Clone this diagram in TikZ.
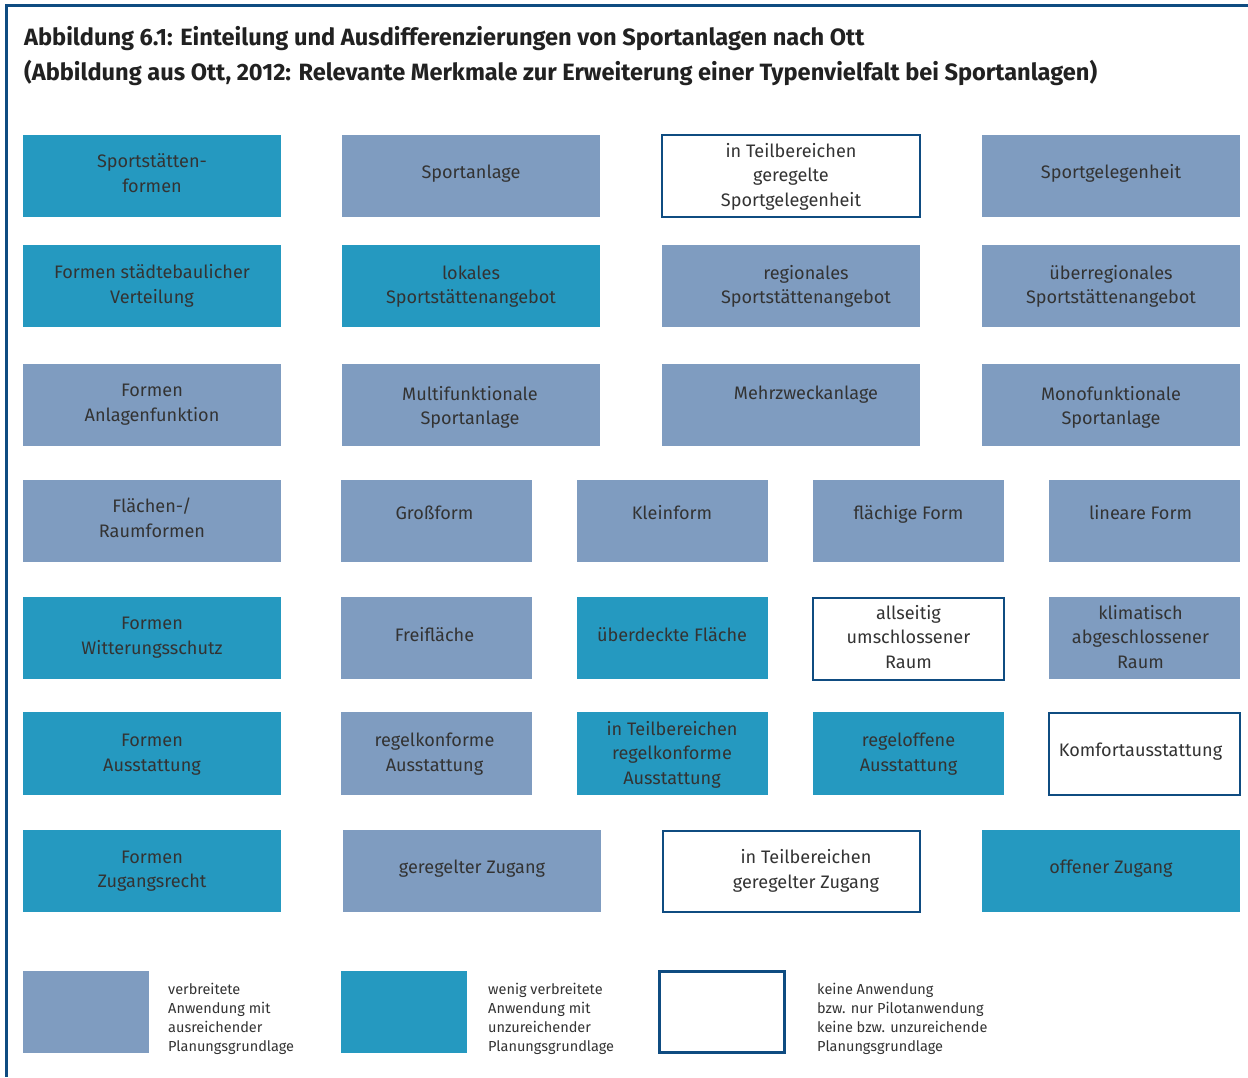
\documentclass[tikz,border=0pt]{standalone}
\usepackage{fontspec}
\setmainfont{Fira Sans}
\definecolor{cgrey}{HTML}{7F9CC0}
\definecolor{cteal}{HTML}{2599C0}
\definecolor{cframe}{HTML}{0F4C81}
\definecolor{ctext}{HTML}{333333}
\newcommand\mybox[9]{%
  \node[#2, minimum width={#5pt-#3pt}, minimum height={#6pt-#4pt}] (#1) at ({(#3+#5)/2},{(#4+#6)/2}) {};
  \node[boxtext] (#1-t) at (#7,#8) {\begin{tabular}{@{}c@{}}#9\end{tabular}};}
\begin{document}
\begin{tikzpicture}[x=1pt,y=-1pt,
  base/.style={inner sep=0pt, outer sep=0pt, rectangle},
  greybox/.style={base, fill=cgrey},
  tealbox/.style={base, fill=cteal},
  whitebox/.style={base, fill=white, draw=cframe, line width=2.5pt},
  boxtext/.style={inner sep=0pt, yshift=-2pt, text=ctext, font=\fontsize{18.1}{24.5}\selectfont},
  titletext/.style={inner sep=0pt, anchor=base west, text=black!87, font=\fontsize{23.6}{28}\selectfont\bfseries},
  legtext/.style={inner sep=0pt, anchor=base west, text=ctext, font=\fontsize{14.5}{19.3}\selectfont},
  frameline/.style={draw=cframe, line width=3pt}]
\useasboundingbox (0,0) rectangle (1248,1077);
\fill[white] (0,0) rectangle (1248,1077);
% frame
\coordinate (fr1) at (1248,5);
\coordinate (fr2) at (6,5);
\coordinate (fr3) at (6,1077);
\draw[frameline] (fr1) -- (fr2) -- (fr3);
% title
\node[titletext] (title1) at (24,45) {Abbildung 6.1: Einteilung und Ausdifferenzierungen von Sportanlagen nach Ott};
\node[titletext] (title2) at (24,80) {(Abbildung aus Ott, 2012: Relevante Merkmale zur Erweiterung einer Typenvielfalt bei Sportanlagen)};
% row 1
\mybox{A1}{tealbox}{23}{135}{281}{217}{152}{173}{Sportstätten-\\formen}
\mybox{A2}{greybox}{342}{135}{600}{217}{471}{172}{Sportanlage}
\mybox{A3}{whitebox}{662}{135}{920}{217}{791}{175}{in Teilbereichen\\geregelte\\Sportgelegenheit}
\mybox{A4}{greybox}{982}{135}{1240}{217}{1111}{172}{Sportgelegenheit}
% row 2
\mybox{B1}{tealbox}{23}{245}{281}{327}{152}{284}{Formen städtebaulicher\\Verteilung}
\mybox{B2}{tealbox}{342}{245}{600}{327}{471}{284.5}{lokales\\Sportstättenangebot}
\mybox{B3}{greybox}{662}{245}{920}{327}{806}{284.5}{regionales\\Sportstättenangebot}
\mybox{B4}{greybox}{982}{245}{1240}{327}{1111}{284.5}{überregionales\\Sportstättenangebot}
% row 3
\mybox{C1}{greybox}{23}{364}{281}{446}{152}{402}{Formen\\Anlagenfunktion}
\mybox{C2}{greybox}{342}{364}{600}{446}{470}{405.5}{Multifunktionale\\Sportanlage}
\mybox{C3}{greybox}{662}{364}{920}{446}{806}{393}{Mehrzweckanlage}
\mybox{C4}{greybox}{982}{364}{1240}{446}{1111}{405.5}{Monofunktionale\\Sportanlage}
% row 4
\mybox{D1}{greybox}{23}{480}{281}{562}{152}{518}{Flächen-/\\Raumformen}
\mybox{D2}{greybox}{341}{480}{532}{562}{434.5}{513}{Großform}
\mybox{D3}{greybox}{577}{480}{768}{562}{672}{513}{Kleinform}
\mybox{D4}{greybox}{813}{480}{1004}{562}{908.5}{513}{flächige Form}
\mybox{D5}{greybox}{1049}{480}{1240}{562}{1140.5}{513}{lineare Form}
% row 5
\mybox{E1}{tealbox}{23}{597}{281}{679}{152}{635}{Formen\\Witterungsschutz}
\mybox{E2}{greybox}{341}{597}{532}{679}{434.5}{635}{Freifläche}
\mybox{E3}{tealbox}{577}{597}{768}{679}{672}{635}{überdeckte Fläche}
\mybox{E4}{whitebox}{813}{598}{1004}{680}{908.5}{637}{allseitig\\umschlossener\\Raum}
\mybox{E5}{greybox}{1049}{597}{1240}{679}{1140.5}{637}{klimatisch\\abgeschlossener\\Raum}
% row 6
\mybox{F1}{tealbox}{23}{712}{281}{795}{152}{752}{Formen\\Ausstattung}
\mybox{F2}{greybox}{341}{712}{532}{795}{434.5}{752}{regelkonforme\\Ausstattung}
\mybox{F3}{tealbox}{577}{712}{768}{795}{672}{753}{in Teilbereichen\\regelkonforme\\Ausstattung}
\mybox{F4}{tealbox}{813}{712}{1004}{795}{908.5}{752}{regeloffene\\Ausstattung}
\mybox{F5}{whitebox}{1049}{713}{1240}{795}{1140.5}{750}{Komfortausstattung}
% row 7
\mybox{G1}{tealbox}{23}{830}{281}{912}{152}{868.5}{Formen\\Zugangsrecht}
\mybox{G2}{greybox}{343}{830}{601}{912}{472}{867}{geregelter Zugang}
\mybox{G3}{whitebox}{663}{831}{920}{912}{806}{869}{in Teilbereichen\\geregelter Zugang}
\mybox{G4}{tealbox}{982}{830}{1240}{912}{1111}{867}{offener Zugang}
% legend
\node[greybox, minimum width=126pt, minimum height=82pt] (L1) at (86,1012) {};
\node[legtext] (L1t) at (168,994) {\begin{tabular}[t]{@{}l@{}}verbreitete\\Anwendung mit\\ausreichender\\Planungsgrundlage\end{tabular}};
\node[tealbox, minimum width=126pt, minimum height=82pt] (L2) at (404,1012) {};
\node[legtext] (L2t) at (488,994) {\begin{tabular}[t]{@{}l@{}}wenig verbreitete\\Anwendung mit\\unzureichender\\Planungsgrundlage\end{tabular}};
\node[whitebox, minimum width=125pt, minimum height=81pt] (L3) at (722,1012) {};
\node[legtext] (L3t) at (817,994) {\begin{tabular}[t]{@{}l@{}}keine Anwendung\\bzw. nur Pilotanwendung\\keine bzw. unzureichende\\Planungsgrundlage\end{tabular}};
\end{tikzpicture}
\end{document}
